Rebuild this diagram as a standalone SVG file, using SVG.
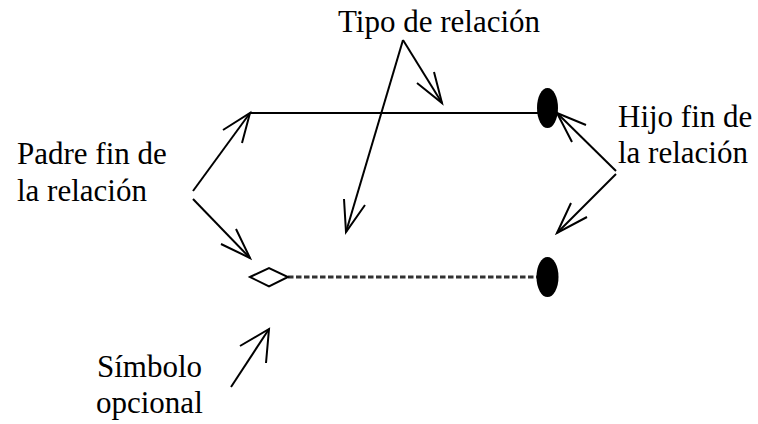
<svg xmlns="http://www.w3.org/2000/svg" width="758" height="424" viewBox="0 0 758 424">
<style>
text{font-family:"Liberation Serif","Times New Roman",serif;font-size:31px;fill:#000}
.ln{stroke:#000;stroke-width:2;fill:none}
.ah{stroke:#000;stroke-width:2;fill:none;stroke-linejoin:miter}
</style>
<rect width="758" height="424" fill="#fff"/>
<g id="rel-top">
<line class="ln" x1="250" y1="113" x2="540" y2="113"/>
<ellipse cx="547.5" cy="108" rx="10.5" ry="20" fill="#000"/>
</g>
<g id="rel-bottom">
<line x1="288" y1="277" x2="538" y2="277" stroke="#333" stroke-width="3" stroke-dasharray="5.5 2.5"/>
<polygon points="250,277 269,268 288,277 269,286.5" fill="#fff" stroke="#000" stroke-width="2"/>
<ellipse cx="547.5" cy="277" rx="11" ry="20" fill="#000"/>
</g>
<g id="label-tipo"><text x="338" y="32">Tipo de relación</text></g>
<g id="label-padre"><text x="17" y="164">Padre fin de</text><text x="17" y="201">la relación</text></g>
<g id="label-hijo"><text x="618" y="127">Hijo fin de</text><text x="618" y="163">la relación</text></g>
<g id="label-simbolo"><text x="97" y="377">Símbolo</text><text x="96" y="413">opcional</text></g>
<g id="connectors">
<line class="ln" x1="193" y1="191" x2="250" y2="113"/>
<polyline class="ah" points="223,130 250,113 242,143"/>
<line class="ln" x1="193" y1="199" x2="250" y2="258"/>
<polyline class="ah" points="221,244 250,258 236,229"/>
<line class="ln" x1="403" y1="40" x2="442" y2="103"/>
<polyline class="ah" points="417,83 442,103 434,72"/>
<line class="ln" x1="403" y1="40" x2="346" y2="232"/>
<polyline class="ah" points="344,199 346,232 365,205"/>
<line class="ln" x1="616" y1="171" x2="557" y2="113"/>
<polyline class="ah" points="586,125 557,113 572,142"/>
<line class="ln" x1="616" y1="174" x2="557" y2="233"/>
<polyline class="ah" points="571,203 557,233 587,217"/>
<line class="ln" x1="231" y1="387" x2="269" y2="329"/>
<polyline class="ah" points="240,346 269,329 266,363"/>
</g>
</svg>
